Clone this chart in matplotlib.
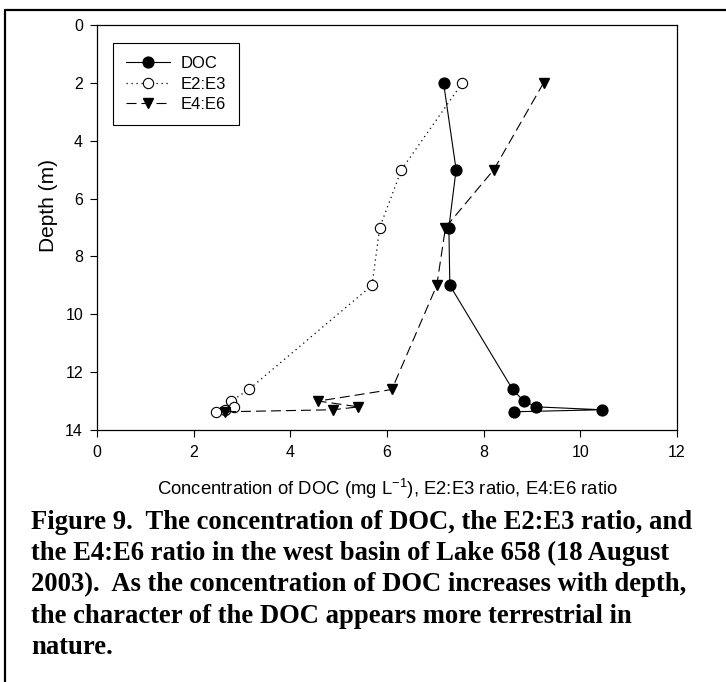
import matplotlib
matplotlib.use("Agg")
import matplotlib.pyplot as plt
from matplotlib.lines import Line2D

# depth (m) and values
depth = [2, 5, 7, 9, 12.6, 13.0, 13.2, 13.3, 13.37]
doc = [7.17, 7.43, 7.28, 7.30, 8.60, 8.83, 9.09, 10.44, 8.63]
e2e3 = [7.56, 6.30, 5.85, 5.69, 3.14, 2.78, 2.83, 2.65, 2.47]
e4e6 = [9.24, 8.21, 7.21, 7.03, 6.10, 4.58, 5.41, 4.89, 2.65]

xticks = [0, 2, 4, 6, 8, 10, 12]
yticks = [0, 2, 4, 6, 8, 10, 12, 14]

caption = ["Figure 9.  The concentration of DOC, the E2:E3 ratio, and",
           "the E4:E6 ratio in the west basin of Lake 658 (18 August",
           "2003).  As the concentration of DOC increases with depth,",
           "the character of the DOC appears more terrestrial in",
           "nature."]

plt.rcParams['font.family'] = ['Liberation Sans', 'DejaVu Sans']
plt.rcParams['mathtext.fontset'] = 'custom'
plt.rcParams['mathtext.rm'] = 'Liberation Sans'
plt.rcParams['mathtext.it'] = 'Liberation Sans'

W, H = 726, 682
fig = plt.figure(figsize=(W/100, H/100), dpi=100)
ax = fig.add_axes([97/W, 1-430/H, 580/W, 405/H])

ax.plot(doc, depth, color='k', lw=0.8, ls='-', marker='o', ms=7.8,
        mfc='k', mec='k', label='DOC')
ax.plot(e2e3, depth, color='k', lw=0.9, ls=(0, (1, 3)), marker='o', ms=7.4,
        mfc='white', mec='k', mew=0.8, label='E2:E3')
ax.plot(e4e6, depth, color='k', lw=0.8, ls=(0, (9, 4.5)), marker='v', ms=7.8,
        mfc='k', mec='k', label='E4:E6')

ax.set_xlim(0, 12)
ax.set_ylim(14, 0)
ax.set_xticks(xticks)
ax.set_yticks(yticks)
ax.tick_params(direction='out', length=5, width=0.8, labelsize=11.5)
ax.tick_params(axis='x', pad=6)
ax.tick_params(axis='y', pad=5)
for s in ax.spines.values():
    s.set_linewidth(0.9)

ax.set_xlabel('Concentration of DOC (mg L$^{\\mathrm{-1}}$), E2:E3 ratio, E4:E6 ratio',
              fontsize=13.3, labelpad=12)
ax.set_ylabel('Depth (m)', fontsize=15)
ax.yaxis.set_label_coords(-39/580, 1-(206-25)/405)

leg = ax.legend(loc='upper left', bbox_to_anchor=(16/580, 1-17.7/405),
                borderaxespad=0, fontsize=12, handlelength=2.6,
                handletextpad=0.65, labelspacing=0.33, borderpad=0.8,
                fancybox=False, framealpha=1, edgecolor='k')
leg.get_frame().set_linewidth(0.8)

# caption in bold serif
for i, line in enumerate(caption):
    fig.text(31/W, 1-(529+i*31.2)/H, line, fontsize=19.2, fontweight='bold',
             family='Liberation Serif', ha='left', va='baseline')

# outer frame (left and top edges visible)
fig.add_artist(Line2D([5/W, 5/W, 1], [0, 1-10/H, 1-10/H],
                      transform=fig.transFigure, color='k', lw=1.6))

fig.savefig('out.png', dpi=100)
